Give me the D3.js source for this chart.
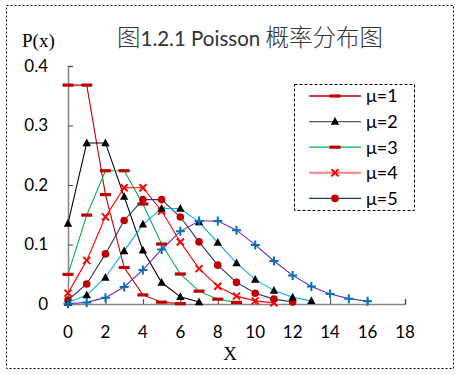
<!DOCTYPE html>
<html>
<head>
<meta charset="utf-8">
<script src="https://cdn.jsdelivr.net/npm/d3@7"></script>
<style>
  body { margin: 0; background: #fff; }
  text { font-family: Lato, "Noto Sans", sans-serif; fill: #000; }
  .serif { font-family: "Liberation Serif", "DejaVu Serif", serif; }
  .cjk { font-family: Lato, "Noto Sans CJK SC", sans-serif; }
</style>
</head>
<body>
<svg id="chart" width="461" height="375"></svg>
<script>
const width = 461;
const height = 375;

// values
const xTicks = [0, 2, 4, 6, 8, 10, 12, 14, 16, 18];
const yTicks = [0, 0.1, 0.2, 0.3, 0.4];
const mu1 = [0.3679, 0.3679, 0.1839, 0.0613, 0.0153, 0.0031, 0.0005];
const mu2 = [0.1353, 0.2707, 0.2707, 0.1804, 0.0902, 0.0361, 0.012, 0.0034];
const mu3 = [0.0498, 0.1494, 0.224, 0.224, 0.168, 0.1008, 0.0504, 0.0216, 0.0081, 0.0027];
const mu4 = [0.0183, 0.0733, 0.1465, 0.1954, 0.1954, 0.1563, 0.1042, 0.0595, 0.0298, 0.0132, 0.0053, 0.0019];
const mu5 = [0.0067, 0.0337, 0.0842, 0.1404, 0.1755, 0.1755, 0.1462, 0.1044, 0.0653, 0.0363, 0.0181, 0.0082, 0.0034];
const mu6 = [0.0025, 0.0149, 0.0446, 0.0892, 0.1339, 0.1606, 0.1606, 0.1377, 0.1033, 0.0688, 0.0413, 0.0225, 0.0113, 0.0052];
const mu8 = [0.0003, 0.0027, 0.0107, 0.0286, 0.0573, 0.0916, 0.1221, 0.1396, 0.1396, 0.1241, 0.0993, 0.0722, 0.0481, 0.0296, 0.0169, 0.009, 0.0045];
const legendNames = ["μ=1", "μ=2", "μ=3", "μ=4", "μ=5"];
const titleParts = [["图", 23.5, 300], ["1.2.1 Poisson ", 20.5, 400], ["概率分布图", 23.5, 300]];

const series = [
  { values: mu1, line: "#c00000", marker: "dash", fill: "#c00000", legendLine: "#c00000" },
  { values: mu2, line: "#000000", marker: "tri", fill: "#000000", legendLine: "#595959" },
  { values: mu3, line: "#00b050", marker: "dash", fill: "#c00000", legendLine: "#00b050" },
  { values: mu4, line: "#ff0000", marker: "x", fill: "#ff0000", legendLine: "#ff8080" },
  { values: mu5, line: "#203864", marker: "dot", fill: "#c00000", legendLine: "#203864" },
  { values: mu6, line: "#00b0f0", marker: "tri", fill: "#000000" },
  { values: mu8, line: "#7030a0", marker: "plus", fill: "#0070c0" }
];

const svg = d3.select("#chart");

svg.append("rect")
  .attr("x", 6.5).attr("y", 5.5)
  .attr("width", 447).attr("height", 363)
  .attr("fill", "none")
  .attr("stroke", "#000")
  .attr("stroke-dasharray", "2,2");

const x = d3.scaleLinear().domain([0, 18]).range([68, 405]);
const y = d3.scaleLinear().domain([0, 0.4]).range([304, 66]);

// axes, ticks pointing inside
const yAxis = svg.append("g")
  .attr("transform", "translate(68,0)")
  .call(d3.axisRight(y).tickValues(yTicks).tickSize(5).tickFormat(""));
yAxis.select(".domain").attr("stroke", "#868686").attr("stroke-width", 1.5);
yAxis.selectAll(".tick line").attr("stroke", "#404040");

const xAxis = svg.append("g")
  .attr("transform", "translate(0,304)")
  .call(d3.axisTop(x).tickValues(xTicks).tickSize(5).tickFormat(""));
xAxis.select(".domain").attr("stroke", "#868686").attr("stroke-width", 1.5);
xAxis.selectAll(".tick line").attr("stroke", "#404040");

svg.selectAll(".ylab")
  .data(yTicks)
  .enter()
  .append("text")
  .attr("x", 48)
  .attr("y", d => y(d))
  .attr("dy", "0.35em")
  .attr("text-anchor", "end")
  .attr("font-size", 17)
  .text(d => d === 0 ? "0" : d3.format(".1f")(d));

svg.selectAll(".xlab")
  .data(xTicks)
  .enter()
  .append("text")
  .attr("x", d => x(d))
  .attr("y", 338)
  .attr("text-anchor", "middle")
  .attr("font-size", 17)
  .text(d => d);

svg.append("text")
  .attr("class", "serif")
  .attr("x", 22).attr("y", 47)
  .attr("font-size", 19)
  .text("P(x)");

svg.append("text")
  .attr("class", "serif")
  .attr("x", 230).attr("y", 360)
  .attr("text-anchor", "middle")
  .attr("font-size", 19)
  .text("X");

const title = svg.append("text")
  .attr("class", "cjk")
  .attr("x", 250).attr("y", 46)
  .attr("text-anchor", "middle")
  .style("fill", "#333");
title.selectAll("tspan")
  .data(titleParts)
  .enter()
  .append("tspan")
  .attr("font-size", d => d[1])
  .style("font-weight", d => d[2])
  .text(d => d[0]);

function drawMarker(g, type, color) {
  if (type === "dash") {
    g.append("rect").attr("x", -5.5).attr("y", -1.6).attr("width", 11).attr("height", 3.2).attr("fill", color);
  } else if (type === "tri") {
    g.append("path").attr("d", "M0,-4.5L4.2,3.2L-4.2,3.2Z").attr("fill", color);
  } else if (type === "dot") {
    g.append("circle").attr("r", 3.8).attr("fill", color);
  } else if (type === "x") {
    g.append("path").attr("d", "M-3.5,-3.5L3.5,3.5M-3.5,3.5L3.5,-3.5").attr("stroke", color).attr("stroke-width", 2);
  } else if (type === "plus") {
    g.append("path").attr("d", "M-4.5,0L4.5,0M0,-4.5L0,4.5").attr("stroke", color).attr("stroke-width", 2);
  }
}

const line = d3.line().x((d, i) => x(i)).y(d => y(d));

series.forEach(s => {
  const g = svg.append("g");
  g.append("path")
    .attr("d", line(s.values))
    .attr("fill", "none")
    .attr("stroke", s.line)
    .attr("stroke-width", 1.1);
  g.selectAll("g")
    .data(s.values)
    .enter()
    .append("g")
    .attr("transform", (d, i) => `translate(${x(i)},${y(d)})`)
    .each(function() { drawMarker(d3.select(this), s.marker, s.fill); });
});

// legend
const legend = svg.append("g");
legend.append("rect")
  .attr("x", 294.5).attr("y", 84.5)
  .attr("width", 120).attr("height", 126)
  .attr("fill", "#fff")
  .attr("stroke", "#000")
  .attr("stroke-dasharray", "3,2");

legendNames.forEach((name, i) => {
  const s = series[i];
  const ly = 96 + i * 25.6;
  legend.append("line")
    .attr("x1", 309).attr("x2", 361)
    .attr("y1", ly).attr("y2", ly)
    .attr("stroke", s.legendLine)
    .attr("stroke-width", i === 3 ? 2 : 1.3);
  drawMarker(legend.append("g").attr("transform", `translate(335,${ly})`), s.marker, s.fill);
  legend.append("text")
    .attr("x", 366).attr("y", ly)
    .attr("dy", "0.35em")
    .attr("font-size", 18)
    .text(name);
});
</script>
</body>
</html>
